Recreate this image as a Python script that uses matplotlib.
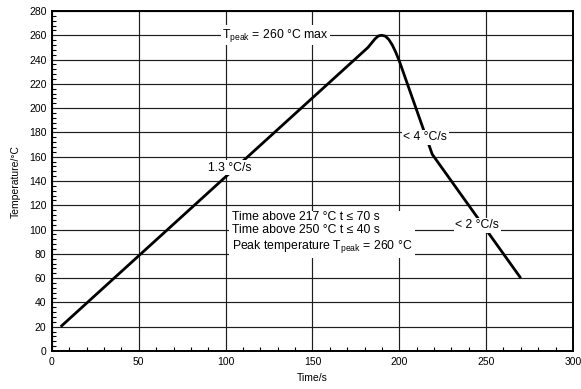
import matplotlib
matplotlib.use("Agg")
import matplotlib.pyplot as plt
from matplotlib.ticker import MultipleLocator

# reflow profile
time_s = [5, 182, 184, 186, 188, 190, 192, 194, 196, 198, 200, 219, 270]
temp_c = [20, 250, 253.5, 257, 259.5, 260, 259.3, 256.5, 252, 246, 239, 162, 60]

notes = [
    "Time above 217 °C t ≤ 70 s",
    "Time above 250 °C t ≤ 40 s",
    r"Peak temperature T$_\mathregular{peak}$ = 260 °C",
]

plt.rcParams.update({
    "font.family": ["Liberation Sans", "DejaVu Sans"],
    "font.size": 7.5,
    "mathtext.default": "regular",
})

fig = plt.figure(figsize=(5.81, 3.89), dpi=100)
ax = fig.add_axes([0.0895, 0.0977, 0.8965, 0.874])

ax.plot(time_s, temp_c, color="black", lw=2.0, solid_joinstyle="round",
        solid_capstyle="butt", zorder=3)

ax.set_xlim(0, 300)
ax.set_ylim(0, 280)
ax.xaxis.set_major_locator(MultipleLocator(50))
ax.yaxis.set_major_locator(MultipleLocator(20))
ax.xaxis.set_minor_locator(MultipleLocator(10))
ax.yaxis.set_minor_locator(MultipleLocator(4))
ax.tick_params(which="major", length=0, pad=4, labelsize=7.5)
ax.tick_params(which="minor", direction="in", length=3, width=0.8,
               top=False, right=False)
ax.grid(True, which="major", color="#1e1e1e", lw=0.85)
for s in ax.spines.values():
    s.set_linewidth(1.4)
    s.set_zorder(4)

ax.set_xlabel("Time/s", fontsize=7.5, labelpad=5)
ax.set_ylabel("Temperature/°C", fontsize=7.5, labelpad=6)

box = dict(facecolor="white", edgecolor="none", pad=1.0)
ax.text(128.5, 260, r"T$_\mathregular{peak}$ = 260 °C max", fontsize=8.8,
        ha="center", va="center", bbox=box, zorder=5)
ax.text(102.5, 151, "1.3 °C/s", fontsize=8.8, ha="center", va="center",
        bbox=box, zorder=5)
ax.text(215, 176, "< 4 °C/s", fontsize=8.8, ha="center", va="center",
        bbox=box, zorder=5)
ax.text(245, 103.5, "< 2 °C/s", fontsize=8.8, ha="center", va="center",
        bbox=box, zorder=5)
ax.text(103.5, 115.5, "\n".join(notes), fontsize=8.8, ha="left", va="top",
        linespacing=1.15, bbox=dict(facecolor="white", edgecolor="none", pad=2),
        zorder=2.5)

fig.savefig("out.png", dpi=100)
